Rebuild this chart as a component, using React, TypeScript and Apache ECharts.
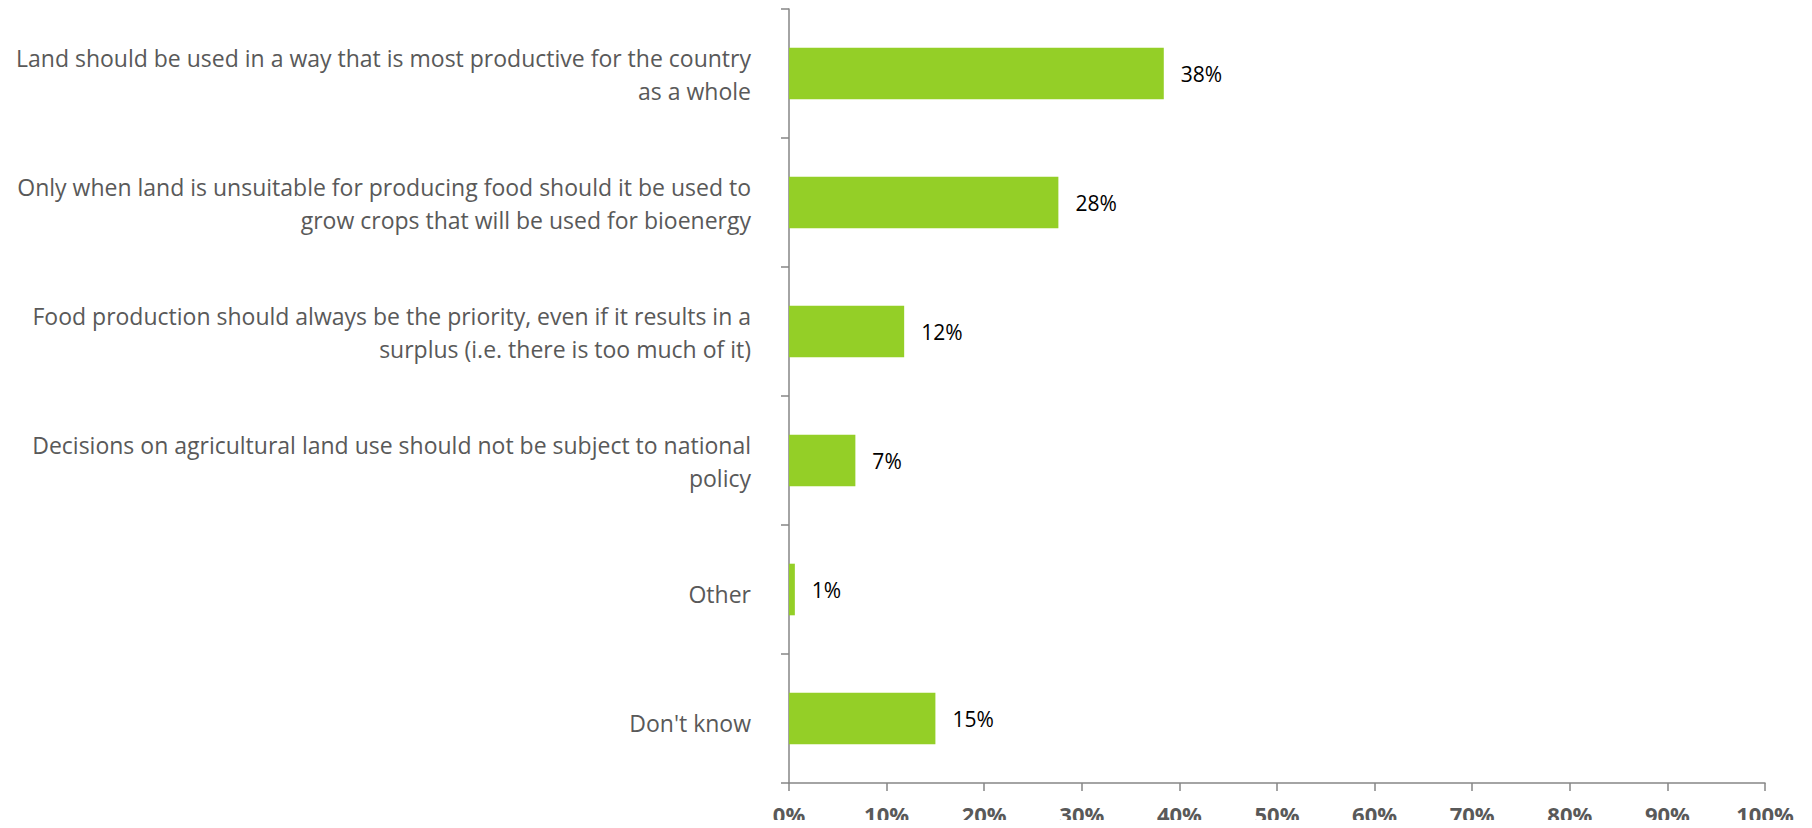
import React, { useEffect, useRef } from "react";
import * as echarts from "echarts";

const categories: string[] = [
  "Land should be used in a way that is most productive for the country\nas a whole",
  "Only when land is unsuitable for producing food should it be used to\ngrow crops that will be used for bioenergy",
  "Food production should always be the priority, even if it results in a\nsurplus (i.e. there is too much of it)",
  "Decisions on agricultural land use should not be subject to national\npolicy",
  "Other",
  "Don't know",
];

const values: number[] = [38.4, 27.6, 11.8, 6.8, 0.6, 15.0];

const xTicks = { min: 0, max: 100, interval: 10 };

export default function App() {
  const ref = useRef<HTMLDivElement>(null);

  useEffect(() => {
    if (!ref.current) return;
    const chart = echarts.init(ref.current, undefined, { renderer: "svg" });
    const axisColor = "#868686";
    const labelColor = "#595959";
    chart.setOption({
      animation: false,
      grid: { left: 789, right: 47, top: 9, bottom: 45, containLabel: false },
      xAxis: {
        type: "value",
        min: xTicks.min,
        max: xTicks.max,
        interval: xTicks.interval,
        axisLine: { show: true, lineStyle: { color: axisColor, width: 1.5 } },
        axisTick: { show: true, length: 8, lineStyle: { color: axisColor, width: 1.5 } },
        splitLine: { show: false },
        axisLabel: {
          formatter: "{value}%",
          color: labelColor,
          fontFamily: "Open Sans",
          fontWeight: "bold",
          fontSize: 22,
          margin: 22,
          lineHeight: 18,
        },
      },
      yAxis: {
        type: "category",
        inverse: true,
        data: categories,
        axisLine: { show: true, lineStyle: { color: axisColor, width: 1.5 } },
        axisTick: { show: true, length: 8, lineStyle: { color: axisColor, width: 1.5 } },
        axisLabel: {
          color: labelColor,
          fontFamily: "Open Sans",
          fontSize: 23,
          lineHeight: 33,
          align: "right",
          margin: 38,
          padding: [2, 0, 0, 0],
          formatter: (v: string) => (v.indexOf("\n") >= 0 ? v : "{s|" + v + "}"),
          rich: {
            s: {
              color: labelColor,
              fontFamily: "Open Sans",
              fontSize: 23,
              lineHeight: 33,
              padding: [7, 0, 0, 0],
            },
          },
        },
      },
      series: [
        {
          type: "bar",
          data: values,
          barCategoryGap: "60%",
          itemStyle: { color: "#94CF27" },
          label: {
            show: true,
            position: "right",
            distance: 17,
            color: "#000000",
            fontFamily: "Open Sans",
            fontSize: 21,
            padding: [3, 0, 0, 0],
            formatter: (p: any) => Math.round(p.value) + "%",
          },
        },
      ],
    });
    return () => chart.dispose();
  }, []);

  return <div ref={ref} style={{ width: 1812, height: 828, margin: -8 }} />;
}
